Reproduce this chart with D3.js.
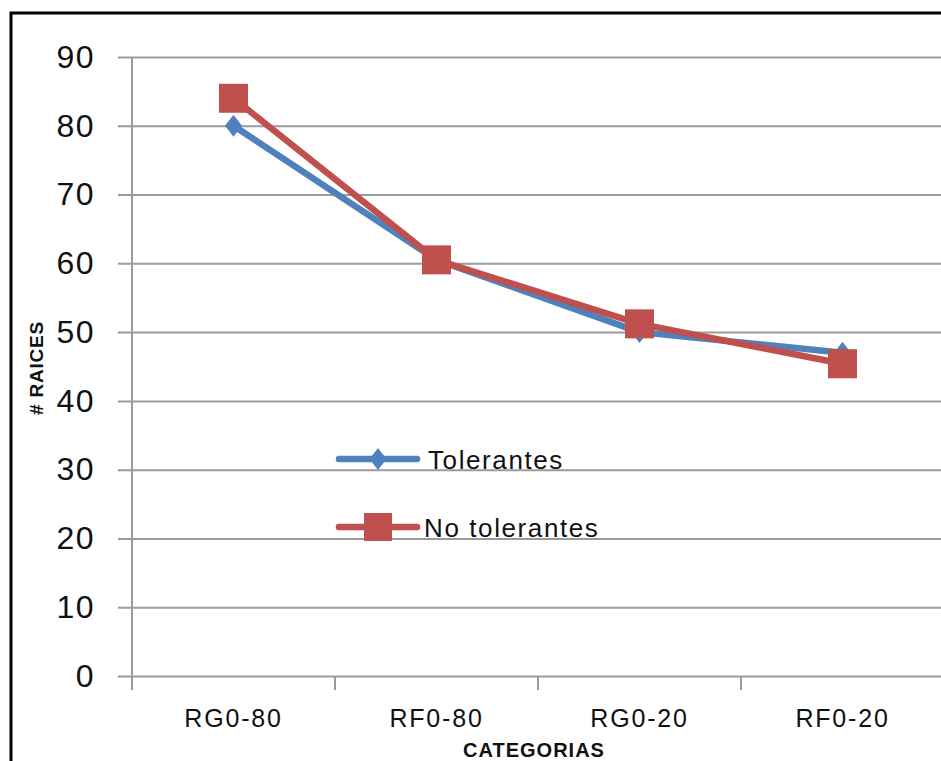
<!DOCTYPE html>
<html>
<head>
<meta charset="utf-8">
<script src="https://cdn.jsdelivr.net/npm/d3@7"></script>
<style>
	body { margin: 0; background: #fff; }
	svg { display: block; }
</style>
</head>
<body>
<div id="chart"></div>
<script>
var categories = ['RG0-80', 'RF0-80', 'RG0-20', 'RF0-20'];
var tolerantes = [80, 60.5, 50, 47];
var noTolerantes = [84, 60.5, 51.2, 45.4];
var yTicks = [0, 10, 20, 30, 40, 50, 60, 70, 80, 90];
var seriesNames = ['Tolerantes', 'No tolerantes'];

var width = 941, height = 761;
var blue = '#4f81bd', red = '#c0504d', grid = '#9a9a9a';

var svg = d3.select('#chart').append('svg')
	.attr('width', width)
	.attr('height', height);

// marco del grafico
svg.append('path')
	.attr('d', 'M11,' + height + 'V13H' + width)
	.attr('fill', 'none')
	.attr('stroke', '#000')
	.attr('stroke-width', 3);

var x = d3.scaleBand().domain(categories).range([132, 944]);
var y = d3.scaleLinear().domain([0, 90]).range([676, 57]);

// lineas de cuadricula + eje y
var yAxis = svg.append('g')
	.attr('transform', 'translate(132,0)')
	.call(d3.axisLeft(y).tickValues(yTicks).tickSize(-(944 - 132)).tickPadding(37).tickSizeOuter(0));
yAxis.select('.domain').remove();
yAxis.selectAll('.tick line')
	.attr('x1', -14)
	.attr('stroke', grid)
	.attr('stroke-width', 2);
yAxis.selectAll('.tick text')
	.attr('font-family', '"Liberation Sans", Arial, sans-serif')
	.attr('font-size', 32)
	.attr('letter-spacing', 1.5)
	.attr('fill', '#111');

svg.append('line')
	.attr('x1', 132).attr('x2', 132)
	.attr('y1', 57).attr('y2', 690)
	.attr('stroke', grid)
	.attr('stroke-width', 2);

// eje x
var xAxis = svg.append('g')
	.attr('transform', 'translate(0,676)')
	.call(d3.axisBottom(x).tickSize(0).tickPadding(0));
xAxis.select('.domain').remove();
xAxis.selectAll('.tick text')
	.attr('y', 51)
	.attr('dy', 0)
	.attr('font-family', '"Liberation Sans", Arial, sans-serif')
	.attr('font-size', 25)
	.attr('letter-spacing', 1.8)
	.attr('fill', '#111');

svg.selectAll('.xtick')
	.data(categories.slice(1))
	.enter()
	.append('line')
	.attr('class', 'xtick')
	.attr('x1', function (d) { return x(d); })
	.attr('x2', function (d) { return x(d); })
	.attr('y1', 676)
	.attr('y2', 690)
	.attr('stroke', grid)
	.attr('stroke-width', 2);

// titulos de ejes
svg.append('text')
	.attr('x', 534)
	.attr('y', 757)
	.attr('text-anchor', 'middle')
	.attr('font-family', '"Liberation Sans", Arial, sans-serif')
	.attr('font-weight', 'bold')
	.attr('font-size', 20)
	.attr('letter-spacing', 1)
	.attr('fill', '#111')
	.text('CATEGORIAS');

svg.append('text')
	.attr('transform', 'translate(43,368) rotate(-90)')
	.attr('text-anchor', 'middle')
	.attr('font-family', '"Liberation Sans", Arial, sans-serif')
	.attr('font-weight', 'bold')
	.attr('font-size', 19)
	.attr('letter-spacing', 0.8)
	.attr('fill', '#111')
	.text('# RAICES');

// series
var cx = function (d, i) { return x(categories[i]) + x.bandwidth() / 2; };
var line = d3.line()
	.x(cx)
	.y(function (d) { return y(d); });

var diamond = 'M0,-11L8.5,0L0,11L-8.5,0Z';

svg.append('path')
	.datum(tolerantes)
	.attr('d', line)
	.attr('fill', 'none')
	.attr('stroke', blue)
	.attr('stroke-width', 6.5)
	.attr('stroke-linejoin', 'round');
svg.selectAll('.dia')
	.data(tolerantes)
	.enter()
	.append('path')
	.attr('class', 'dia')
	.attr('d', diamond)
	.attr('transform', function (d, i) { return 'translate(' + cx(d, i) + ',' + y(d) + ')'; })
	.attr('fill', blue);

svg.append('path')
	.datum(noTolerantes)
	.attr('d', line)
	.attr('fill', 'none')
	.attr('stroke', red)
	.attr('stroke-width', 6.5)
	.attr('stroke-linejoin', 'round');
svg.selectAll('.sq')
	.data(noTolerantes)
	.enter()
	.append('rect')
	.attr('class', 'sq')
	.attr('x', function (d, i) { return cx(d, i) - 14.5; })
	.attr('y', function (d) { return y(d) - 14.5; })
	.attr('width', 29)
	.attr('height', 29)
	.attr('fill', red);

// leyenda
var legend = svg.append('g');
var legendY = [459, 527];
var legendColor = [blue, red];
legend.selectAll('.leg-line')
	.data(seriesNames)
	.enter()
	.append('line')
	.attr('x1', 339).attr('x2', 417)
	.attr('y1', function (d, i) { return legendY[i]; })
	.attr('y2', function (d, i) { return legendY[i]; })
	.attr('stroke', function (d, i) { return legendColor[i]; })
	.attr('stroke-width', 6.5)
	.attr('stroke-linecap', 'round');
legend.append('path')
	.attr('d', diamond)
	.attr('transform', 'translate(378,' + legendY[0] + ')')
	.attr('fill', blue);
legend.append('rect')
	.attr('x', 364).attr('y', legendY[1] - 14)
	.attr('width', 28).attr('height', 28)
	.attr('fill', red);
legend.selectAll('.leg-text')
	.data(seriesNames)
	.enter()
	.append('text')
	.attr('x', function (d, i) { return i === 0 ? 428 : 424; })
	.attr('y', function (d, i) { return legendY[i] + 10; })
	.attr('font-family', '"Liberation Sans", Arial, sans-serif')
	.attr('font-size', 26)
	.attr('letter-spacing', 1.6)
	.attr('fill', '#111')
	.text(function (d) { return d; });
</script>
</body>
</html>
